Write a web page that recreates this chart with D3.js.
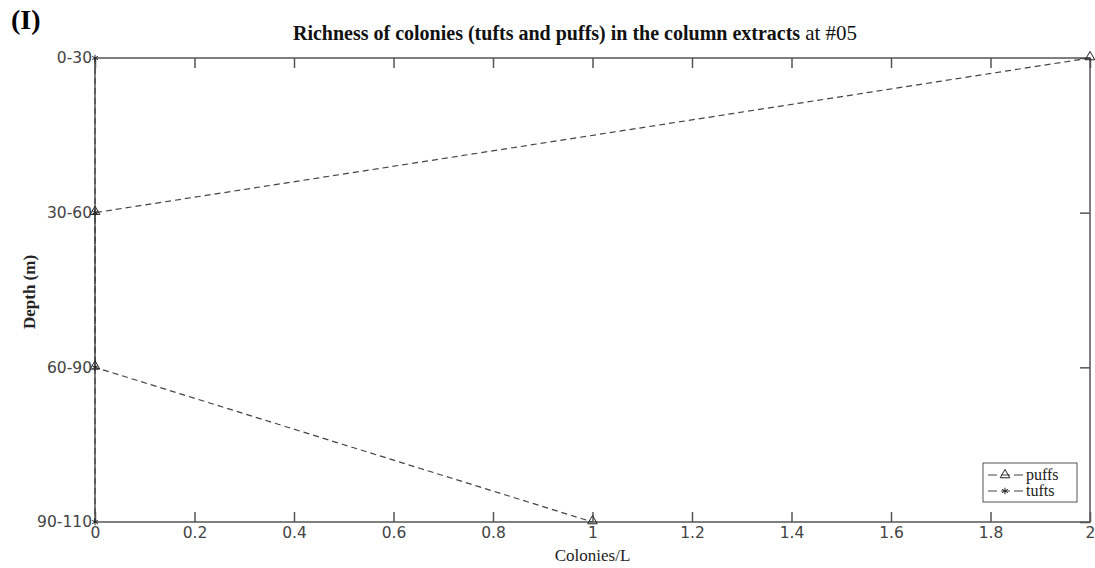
<!DOCTYPE html>
<html>
<head>
<meta charset="utf-8">
<script src="https://cdn.jsdelivr.net/npm/d3@7"></script>
<style>
  body { margin: 0; background: #fff; }
</style>
</head>
<body>
<div id="chart"></div>
<script>
// depth classes and colonies per litre
var depths = ['0-30', '30-60', '60-90', '90-110'];
var puffs = [2, 0, 0, 1];
var tufts = [0, 0, 0, 0];
var xTicks = [0, 0.2, 0.4, 0.6, 0.8, 1, 1.2, 1.4, 1.6, 1.8, 2];

var W = 1095, H = 568;
var m = { left: 95, right: 5, top: 58, bottom: 46 };
var axisColor = '#555';
var lineColor = '#444';

var svg = d3.select('#chart').append('svg')
  .attr('width', W)
  .attr('height', H);

var x = d3.scaleLinear().domain([0, 2]).range([m.left, W - m.right]);
var y = d3.scalePoint().domain(depths).range([m.top, H - m.bottom]);

// frame
svg.append('rect')
  .attr('x', m.left).attr('y', m.top)
  .attr('width', W - m.right - m.left)
  .attr('height', H - m.bottom - m.top)
  .attr('fill', 'none')
  .attr('stroke', axisColor)
  .attr('stroke-width', 1.5);

// axes, ticks point inward
var gx = svg.append('g')
  .attr('transform', 'translate(0,' + (H - m.bottom) + ')')
  .call(d3.axisBottom(x).tickValues(xTicks).tickSize(-10).tickPadding(5).tickFormat(d3.format('')));
var gxTop = svg.append('g')
  .attr('transform', 'translate(0,' + m.top + ')')
  .call(d3.axisTop(x).tickValues(xTicks).tickSize(-10).tickFormat(''));
var gy = svg.append('g')
  .attr('transform', 'translate(' + m.left + ',0)')
  .call(d3.axisLeft(y).tickSize(0).tickPadding(3));
var gyRight = svg.append('g')
  .attr('transform', 'translate(' + (W - m.right) + ',0)')
  .call(d3.axisRight(y).tickSize(-10).tickFormat(''));

[gx, gxTop, gy, gyRight].forEach(function (g) {
  g.select('.domain').remove();
  g.selectAll('.tick line').attr('stroke', axisColor).attr('stroke-width', 1.5);
  g.selectAll('.tick text')
    .attr('fill', '#444')
    .style('font-family', 'DejaVu Sans, sans-serif')
    .style('font-size', '15.5px');
});

// series
var line = d3.line()
  .x(function (d) { return x(d.v); })
  .y(function (d) { return y(d.k); });

var puffData = depths.map(function (k, i) { return { k: k, v: puffs[i] }; });
var tuftData = depths.map(function (k, i) { return { k: k, v: tufts[i] }; });

[tuftData, puffData].forEach(function (data) {
  svg.append('path')
    .datum(data)
    .attr('d', line)
    .attr('fill', 'none')
    .attr('stroke', lineColor)
    .attr('stroke-width', 1.2)
    .attr('stroke-dasharray', '6,4');
});

var tri = d3.symbol().type(d3.symbolTriangle).size(40);
var star = d3.symbol().type(d3.symbolAsterisk || d3.symbolCross).size(30);

svg.selectAll('.tuft').data(tuftData)
  .enter().append('path')
  .attr('class', 'tuft')
  .attr('transform', function (d) { return 'translate(' + x(d.v) + ',' + y(d.k) + ')'; })
  .attr('d', star)
  .attr('fill', '#222')
  .attr('stroke', '#222')
  .attr('stroke-width', 1);

svg.selectAll('.puff').data(puffData)
  .enter().append('path')
  .attr('class', 'puff')
  .attr('transform', function (d) { return 'translate(' + x(d.v) + ',' + (y(d.k) - 1) + ')'; })
  .attr('d', tri)
  .attr('fill', 'none')
  .attr('stroke', '#222')
  .attr('stroke-width', 1);

// legend
var lg = svg.append('g').attr('transform', 'translate(983,463)');
lg.append('rect')
  .attr('width', 94).attr('height', 39)
  .attr('fill', '#fff')
  .attr('stroke', axisColor)
  .attr('stroke-width', 1);
var items = [{ name: 'puffs', sym: tri, fill: 'none' }, { name: 'tufts', sym: star, fill: '#222' }];
items.forEach(function (it, i) {
  var yy = 12 + i * 16;
  lg.append('line')
    .attr('x1', 5).attr('x2', 40).attr('y1', yy).attr('y2', yy)
    .attr('stroke', lineColor).attr('stroke-width', 1.2)
    .attr('stroke-dasharray', '9,4');
  lg.append('path')
    .attr('transform', 'translate(22,' + yy + ')')
    .attr('d', it.sym)
    .attr('fill', it.fill)
    .attr('stroke', '#222');
  lg.append('text')
    .attr('x', 43).attr('y', yy + 5)
    .style('font-family', 'Liberation Serif, serif')
    .style('font-size', '16px')
    .attr('fill', '#222')
    .text(it.name);
});

// titles
svg.append('text')
  .attr('x', 11).attr('y', 29)
  .style('font-family', 'Liberation Serif, serif')
  .style('font-size', '28px')
  .style('font-weight', 'bold')
  .text('(I)');

var title = svg.append('text')
  .attr('x', 575).attr('y', 40)
  .attr('text-anchor', 'middle')
  .style('font-family', 'Liberation Serif, serif')
  .style('font-size', '20px')
  .attr('fill', '#111');
title.append('tspan').style('font-weight', 'bold')
  .text('Richness of colonies (tufts and puffs) in the column extracts ');
title.append('tspan').style('font-size', '21px').text('at #05');

svg.append('text')
  .attr('transform', 'translate(35,' + ((m.top + H - m.bottom) / 2 + 2) + ') rotate(-90)')
  .attr('text-anchor', 'middle')
  .style('font-family', 'Liberation Serif, serif')
  .style('font-size', '17px')
  .style('font-weight', 'bold')
  .attr('fill', '#222')
  .text('Depth (m)');

svg.append('text')
  .attr('x', x(1)).attr('y', 561)
  .attr('text-anchor', 'middle')
  .style('font-family', 'Liberation Serif, serif')
  .style('font-size', '17px')
  .attr('fill', '#222')
  .text('Colonies/L');
</script>
</body>
</html>
